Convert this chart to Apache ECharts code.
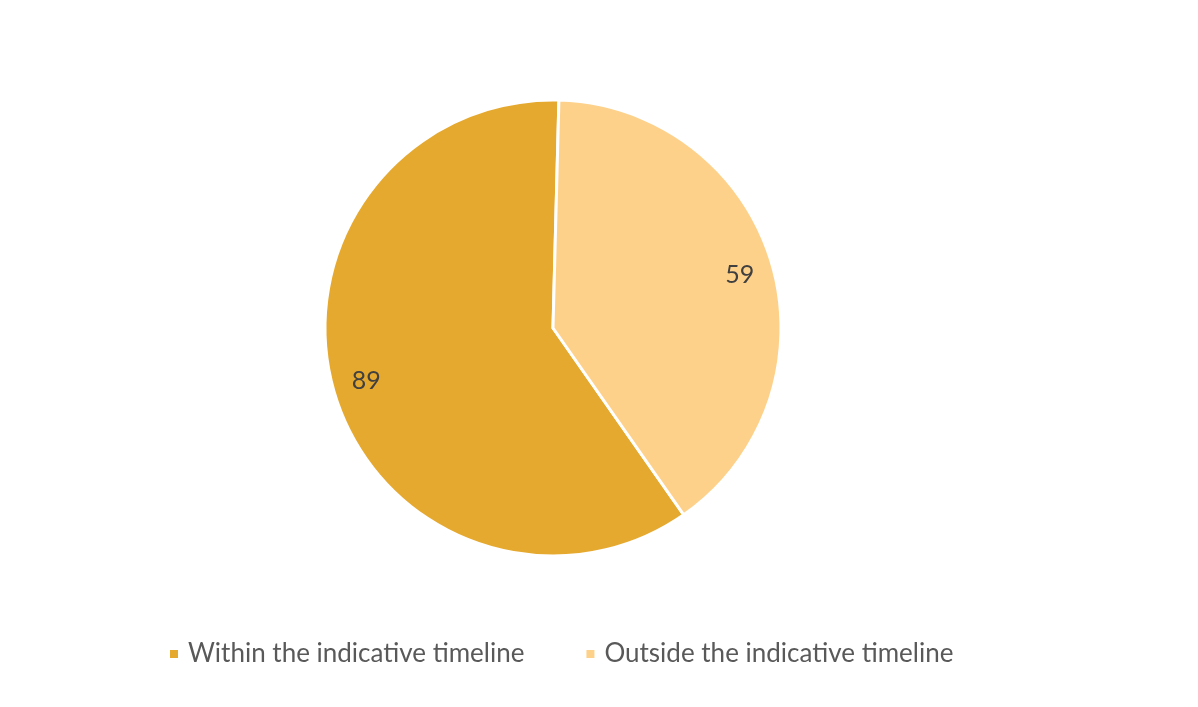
<!DOCTYPE html>
<html><head><meta charset="utf-8">
<script src="https://cdn.jsdelivr.net/npm/echarts@6/dist/echarts.min.js"></script>
<style>html,body{margin:0;padding:0;background:#fff}#c{width:1198px;height:707px}</style>
</head><body><div id="c"></div>
<script>
const categories = ['Within the indicative timeline', 'Outside the indicative timeline'];
const values = [89, 59];
const colors = ['#E6A92F', '#FED18A'];

const data = categories.map((n, i) => ({ name: n, value: values[i], itemStyle: { color: colors[i] } }));
const chart = echarts.init(document.getElementById('c'));
chart.setOption({
  animation: false,
  legend: {
    top: 636, left: 163,
    itemWidth: 10, itemHeight: 10, itemGap: 60,
    icon: 'rect',
    textStyle: { fontFamily: 'Lato', fontSize: 26, color: '#595959', padding: [0, 0, 0, 4] },
    data: categories
  },
  series: [
    {
      type: 'pie', center: [553, 328], radius: [0, 228], startAngle: -55, clockwise: true,
      silent: true,
      itemStyle: { borderColor: '#fff', borderWidth: 3 },
      label: { show: false }, labelLine: { show: false },
      data: data
    },
    {
      type: 'pie', center: [553, 328], radius: [154, 228], startAngle: -56, clockwise: true,
      silent: true, legendHoverLink: false,
      itemStyle: { color: 'transparent', borderWidth: 0 },
      label: { show: true, position: 'inside', formatter: '{c}', fontFamily: 'Lato', fontSize: 25, color: '#404040' },
      labelLine: { show: false },
      data: categories.map((n, i) => ({ name: n + ' ', value: values[i], itemStyle: { color: 'transparent' } }))
    }
  ]
});
</script></body></html>
